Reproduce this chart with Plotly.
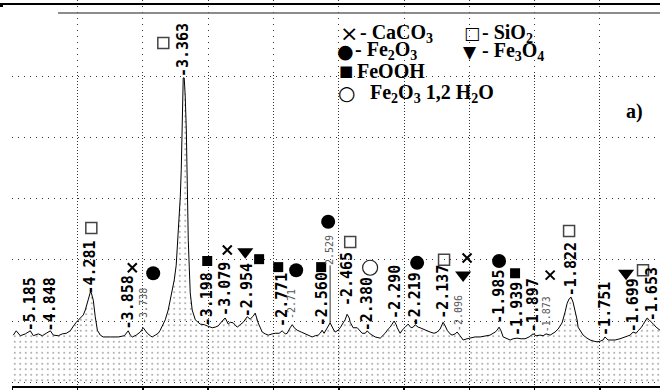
import plotly.graph_objects as go

# ---------------- data (2-theta, degrees ; intensity, a.u.) ----------------
two_theta = [16.06, 16.24, 16.49, 16.80, 17.10, 17.29, 17.59, 17.84, 18.08, 18.33,
             18.51, 18.82, 19.06, 19.31, 19.55, 19.67, 19.80, 19.92, 20.16, 20.35,
             20.47, 20.59, 20.72, 20.78, 20.84, 20.96, 21.08, 21.21, 21.39, 21.57,
             22.00, 22.49, 22.86, 22.98, 23.10, 23.23, 23.35, 23.59, 23.84, 24.02,
             24.14, 24.27, 24.45, 24.57, 24.76, 24.94, 25.06, 25.25, 25.37, 25.55,
             25.68, 25.80, 25.92, 26.04, 26.10, 26.16, 26.23, 26.29, 26.35, 26.41,
             26.44, 26.47, 26.53, 26.59, 26.66, 26.72, 26.78, 26.84, 26.90, 27.02,
             27.21, 27.51, 27.76, 27.94, 28.12, 28.25, 28.43, 28.61, 28.86, 29.04,
             29.23, 29.35, 29.53, 29.78, 29.96, 30.15, 30.39, 30.57, 30.76, 30.88,
             31.06, 31.31, 31.49, 31.68, 31.92, 32.11, 32.35, 32.53, 32.72, 32.84,
             33.02, 33.15, 33.27, 33.45, 33.70, 33.94, 34.19, 34.37, 34.56, 34.74,
             34.86, 34.98, 35.10, 35.29, 35.47, 35.66, 35.78, 35.96, 36.09, 36.27,
             36.39, 36.51, 36.64, 36.70, 36.88, 37.13, 37.31, 37.43, 37.62, 37.74,
             37.92, 38.23, 38.54, 38.72, 38.84, 39.03, 39.15, 39.27, 39.39, 39.52,
             39.58, 39.76, 39.88, 40.07, 40.25, 40.43, 40.56, 40.68, 40.86, 40.98,
             41.29, 41.60, 41.84, 42.03, 42.21, 42.39, 42.52, 42.64, 42.82, 42.94,
             43.13, 43.25, 43.43, 43.62, 43.86, 44.05, 44.35, 44.66, 44.97, 45.27,
             45.58, 45.70, 45.82, 45.94, 46.07, 46.31, 46.50, 46.68, 46.92, 47.17,
             47.41, 47.66, 47.90, 48.09, 48.33, 48.52, 48.70, 48.95, 49.25, 49.44,
             49.68, 49.87, 49.99, 50.11, 50.23, 50.35, 50.48, 50.60, 50.66, 50.78,
             50.97, 51.21, 51.40, 51.64, 51.82, 52.01, 52.19, 52.31, 52.50, 52.74,
             52.93, 53.23, 53.54, 53.85, 54.03, 54.22, 54.33, 54.52, 54.64, 54.76,
             54.89, 55.01, 55.19, 55.31, 55.44, 55.56, 55.68]
intensity = [77, 84, 76, 79, 84, 76, 79, 76, 80, 84,
             77, 76, 79, 80, 84, 90, 94, 98, 105, 110,
             118, 129, 139, 147, 146, 134, 107, 85, 77, 74,
             74, 74, 76, 80, 84, 77, 74, 77, 82, 89,
             84, 80, 76, 74, 77, 80, 85, 94, 102, 118,
             134, 151, 167, 191, 216, 240, 270, 302, 347, 412,
             472, 497, 497, 469, 412, 298, 232, 188, 146, 118,
             102, 95, 94, 92, 90, 89, 90, 92, 100, 105,
             95, 98, 97, 90, 94, 98, 107, 103, 108, 113,
             97, 82, 79, 77, 79, 80, 80, 84, 79, 80,
             89, 94, 89, 85, 82, 79, 76, 74, 76, 77,
             80, 85, 80, 90, 97, 87, 82, 85, 89, 97,
             102, 111, 105, 98, 89, 89, 84, 80, 80, 84,
             79, 74, 72, 76, 80, 87, 90, 95, 100, 94,
             89, 80, 85, 90, 95, 89, 90, 94, 90, 89,
             85, 82, 80, 82, 87, 98, 92, 85, 79, 77,
             79, 82, 76, 69, 71, 72, 74, 74, 76, 77,
             82, 85, 90, 84, 74, 71, 69, 71, 72, 71,
             71, 74, 79, 76, 77, 76, 79, 77, 82, 87,
             97, 115, 129, 136, 139, 131, 118, 102, 90, 84,
             77, 72, 69, 67, 66, 67, 69, 74, 69, 69,
             69, 71, 74, 77, 82, 80, 84, 89, 94, 100,
             105, 102, 98, 94, 90, 87, 85]

# d-spacing labels (Å): text, 2-theta position, intensity at label base
label_text = ["-5.185", "-4.848", "-4.281", "-3.858", "-3.363", "-3.198", "-3.079",
              "-2.954", "-2.771", "-2.560", "-2.465", "-2.380", "-2.290", "-2.219",
              "-2.137", "-1.985", "-1.939", "-1.897", "-1.822", "-1.751", "-1.699",
              "-1.653"]
label_x = [17.10, 18.33, 20.78, 23.10, 26.47, 27.94, 29.04,
           30.39, 32.53, 34.98, 36.51, 37.74, 39.45, 40.68,
           42.39, 45.82, 46.92, 47.90, 50.23, 52.31, 54.03,
           55.19]
label_y = [82, 82, 142, 85, 497, 90, 107,
           105, 89, 90, 123, 82, 102, 90,
           102, 94, 74, 80, 139, 74, 80,
           98]

# thin, hand-added labels
light_text = ["-3.738", "-2.71", "-2.096", "-1.873"]
light_x = [24.02, 33.15, 43.31, 48.70]
light_y = [94, 102, 82, 80]
lead_text = ["2.529"]
lead_x = [35.47]
lead_y = [97]

# phase markers
caco3_x = [23.35, 29.17, 43.86, 48.95]
caco3_y = [187, 216, 203, 175]
sio2_x = [25.25, 20.84, 36.70, 42.45, 50.11, 54.64]
sio2_y = [554, 252, 229, 200, 247, 183]
fe2o3_x = [24.63, 33.39, 35.35, 40.80, 45.82]
fe2o3_y = [178, 183, 262, 195, 198]
fe3o4_x = [30.27, 43.62, 53.60]
fe3o4_y = [213, 175, 178]
feooh_x = [27.94, 31.12, 32.29, 34.92, 46.80]
feooh_y = [198, 201, 188, 188, 178]
hydr_x = [37.92]
hydr_y = [187]

# key (legend) entries
key_symbols = ["×", "□", "●", "▼", "■", "○"]
key_texts = ["- CaCO<sub>3</sub>", "- SiO<sub>2</sub>", "- Fe<sub>2</sub>O<sub>3</sub>",
             "- Fe<sub>3</sub>O<sub>4</sub>", "FeOOH",
             "Fe<sub>2</sub>O<sub>3</sub> 1,2 H<sub>2</sub>O"]

# ---------------- figure ----------------
W, H = 660.0, 390.0
Y_BOTTOM = 386.0        # pixel row of the x axis
Y_TOP_GRID = 75.0       # pixel row of the top of the gridded area
Y_LO = -6.1
Y_HI = 501.7
scale = (Y_BOTTOM - Y_TOP_GRID) / (Y_HI - Y_LO)      # px per unit
Y2_HI = Y_LO + (Y_BOTTOM - 0.0) / scale               # same scale, full height

fig = go.Figure()

fig.add_trace(go.Scatter(
    x=two_theta, y=intensity, mode="lines",
    line=dict(color="black", width=1),
    fill="tozeroy", fillcolor="rgba(0,0,0,0)",
    fillpattern=dict(shape=".", size=5.5, solidity=0.09,
                     fgcolor="#333333", bgcolor="rgba(0,0,0,0)"),
    hoverinfo="skip", showlegend=False))


def add_marks(xs, ys, symbol, size, color, lcolor, lwidth):
    fig.add_trace(go.Scatter(
        x=xs, y=ys, mode="markers", cliponaxis=False, xaxis="x", yaxis="y2",
        marker=dict(symbol=symbol, size=size, color=color,
                    line=dict(color=lcolor, width=lwidth)),
        hoverinfo="skip", showlegend=False))


add_marks(caco3_x, caco3_y, "x-thin", 9, "black", "black", 2)
add_marks(sio2_x, sio2_y, "square-open", 11, "#444444", "#444444", 1.5)
add_marks(fe2o3_x, fe2o3_y, "circle", 14, "black", "black", 0)
add_marks(fe3o4_x, fe3o4_y, "triangle-down", 14, "black", "black", 0)
add_marks(feooh_x, feooh_y, "square", 10, "black", "black", 0)
add_marks(hydr_x, hydr_y, "circle-open", 15, "#222222", "#222222", 1.2)

annotations = []
for t, x, y in zip(label_text, label_x, label_y):
    annotations.append(dict(x=x, y=y, xref="x", yref="y", text=t, textangle=-90,
                            showarrow=False, xanchor="center", yanchor="bottom",
                            borderpad=0,
                            font=dict(family="DejaVu Sans Mono", size=15, color="black",
                                      weight="bold")))
for t, x, y in zip(light_text, light_x, light_y):
    annotations.append(dict(x=x, y=y, xref="x", yref="y", text=t, textangle=-90,
                            showarrow=False, xanchor="center", yanchor="bottom",
                            borderpad=0,
                            font=dict(family="DejaVu Sans Mono", size=10, color="#555555")))
for t, x, y in zip(lead_text, lead_x, lead_y):
    annotations.append(dict(x=x, y=y, xref="x", yref="y", text=t, textangle=-90,
                            showarrow=True, arrowhead=0, arrowwidth=1, arrowcolor="#333333",
                            ax=0, ay=-73, standoff=0, borderpad=0,
                            font=dict(family="DejaVu Sans Mono", size=10, color="#555555")))

# key layout: symbol centre x, text start x, row y (pixels), symbol font size
key_layout = [(349, 358, 33, 22), (472, 480, 33, 17), (345, 353, 51, 19),
              (470, 480, 52, 17), (346, 355, 71, 15), (346, 368, 93, 20)]
for sym, txt, (sx, tx, ry, ss) in zip(key_symbols, key_texts, key_layout):
    annotations.append(dict(x=sx / W, y=1 - ry / H, xref="paper", yref="paper",
                            text=sym, showarrow=False, xanchor="center", yanchor="middle",
                            font=dict(family="DejaVu Sans", size=ss, color="black")))
    annotations.append(dict(x=tx / W, y=1 - ry / H, xref="paper", yref="paper",
                            text="<b>" + txt + "</b>", showarrow=False,
                            xanchor="left", yanchor="middle",
                            font=dict(family="Liberation Serif", size=20, color="black")))
annotations.append(dict(x=624 / W, y=1 - 112 / H, xref="paper", yref="paper",
                        text="<b>a)</b>", showarrow=False, xanchor="left", yanchor="middle",
                        font=dict(family="Liberation Serif", size=20, color="black")))

shapes = [
    dict(type="line", xref="paper", yref="paper", x0=0, x1=1, y0=1 - 4 / H, y1=1 - 4 / H,
         line=dict(color="black", width=2)),
    dict(type="line", xref="paper", yref="paper", x0=58 / W, x1=1, y0=1 - 13 / H, y1=1 - 13 / H,
         line=dict(color="#666666", width=1.5)),
    dict(type="line", xref="paper", yref="paper", x0=0, x1=3 / W, y0=1 - 6 / H, y1=1 - 6 / H,
         line=dict(color="black", width=2)),
]
for x0, x1, y0, y1 in [(0, 61, 70, 117), (243, 329, 70, 79), (340, 462, 70, 79), (335, 545, 79, 108)]:
    shapes.append(dict(type="rect", xref="paper", yref="paper", layer="between",
                       x0=x0 / W, x1=x1 / W, y0=1 - y1 / H, y1=1 - y0 / H,
                       fillcolor="white", line=dict(width=0)))

grid_style = dict(showgrid=True, gridcolor="#333333", gridwidth=1, griddash="1px,5px",
                  zeroline=False, showticklabels=False)

fig.update_layout(
    width=660, height=390,
    margin=dict(l=0, r=0, t=0, b=0),
    paper_bgcolor="white", plot_bgcolor="rgba(0,0,0,0)",
    showlegend=False,
    xaxis=dict(domain=[12 / W, 1], range=[15.98, 55.68], tick0=16, dtick=4,
               showline=True, linecolor="black", linewidth=1.5,
               ticks="outside", ticklen=4, tickcolor="black", tickwidth=1.5,
               **grid_style),
    yaxis=dict(domain=[1 - Y_BOTTOM / H, 1 - Y_TOP_GRID / H], range=[Y_LO, Y_HI],
               tick0=0, dtick=100, showline=False, ticks="", **grid_style),
    yaxis2=dict(domain=[1 - Y_BOTTOM / H, 1], range=[Y_LO, Y2_HI],
                anchor="x", showgrid=False, zeroline=False, showticklabels=False,
                showline=False, ticks=""),
    annotations=annotations,
    shapes=shapes,
)

fig.write_html("out.html", config={"displayModeBar": False, "staticPlot": True},
               post_script="document.body.style.margin='0';document.body.style.overflow='hidden';")
